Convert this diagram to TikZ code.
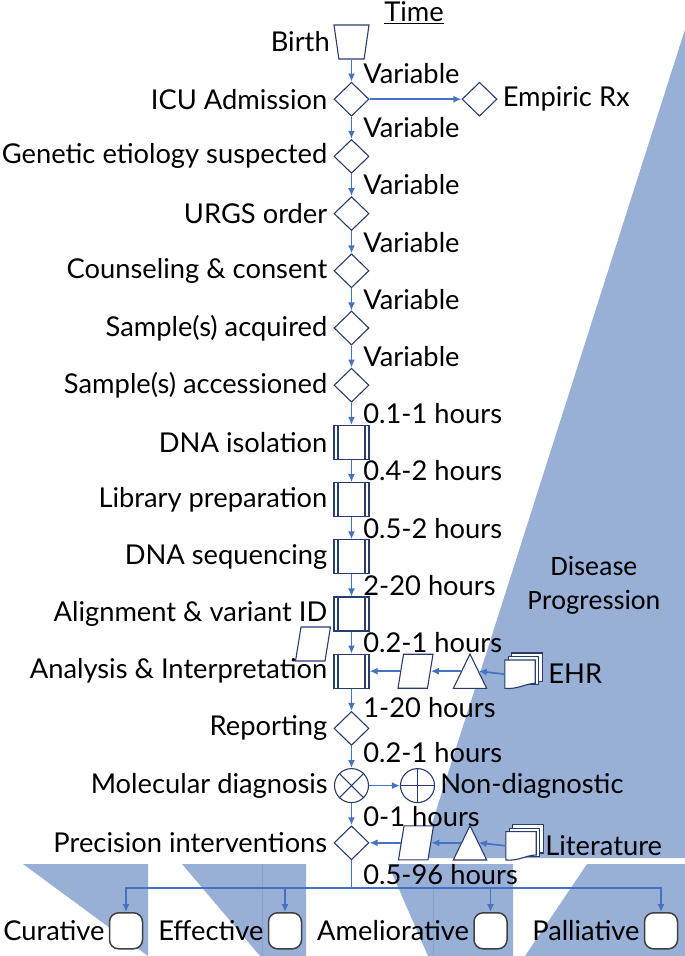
\documentclass[tikz,border=0pt]{standalone}
\usepackage{fontspec}
\setmainfont{Lato}
\newfontfamily\calibrifont{Carlito}
\usetikzlibrary{arrows.meta,positioning,shapes.geometric}
\definecolor{flowblue}{RGB}{68,114,196}
\definecolor{shapenavy}{RGB}{40,60,110}
\definecolor{progfill}{RGB}{152,175,214}
\definecolor{progedge}{RGB}{136,160,205}
\tikzset{
  outline/.style={draw=shapenavy, line width=1.1pt},
  base/.style={outline, fill=white, inner sep=0pt},
  lbl/.style={inner sep=0pt},
  tlbl/.style={inner sep=0pt, right=11pt},
  flow/.style={draw=flowblue, line width=1.7pt, -{Latex[length=8pt,width=7pt]}},
  start/.style={base, trapezium, trapezium left angle=79, trapezium right angle=79,
    shape border rotate=180, trapezium stretches=true, inner sep=2pt, minimum width=35pt, minimum height=34pt},
  dec/.style={base, diamond, minimum width=35pt, minimum height=34pt},
  proc/.style={base, rectangle, minimum width=35pt, minimum height=34pt,
    path picture={\draw[outline]
      ([xshift=4pt]path picture bounding box.north west) -- ([xshift=4pt]path picture bounding box.south west)
      ([xshift=-4pt]path picture bounding box.north east) -- ([xshift=-4pt]path picture bounding box.south east);}},
  para/.style={base, trapezium, trapezium left angle=77, trapezium right angle=103,
    trapezium stretches=true, inner sep=2pt, minimum width=35pt, minimum height=34pt},
  tri/.style={minimum width=33pt, minimum height=34pt, inner sep=0pt,
    append after command={\pgfextra{\filldraw[outline, fill=white]
      (\tikzlastnode.south west) -- (\tikzlastnode.north) -- (\tikzlastnode.south east) -- cycle;}}},
  docs/.style={minimum width=30pt, minimum height=28pt, inner sep=0pt,
    append after command={\pgfextra{
      \filldraw[outline, fill=white] ([shift={(7pt,7pt)}]\tikzlastnode.south west) rectangle ([shift={(7pt,7pt)}]\tikzlastnode.north east);
      \filldraw[outline, fill=white] ([shift={(3.5pt,3.5pt)}]\tikzlastnode.south west) rectangle ([shift={(3.5pt,3.5pt)}]\tikzlastnode.north east);
      \filldraw[outline, fill=white] (\tikzlastnode.north west) -- (\tikzlastnode.north east)
        -- ([yshift=5pt]\tikzlastnode.south east) .. controls +(-10pt,0pt) and +(14pt,-1pt) .. (\tikzlastnode.south west) -- cycle;}}},
  mult/.style={base, circle, minimum size=34pt,
    path picture={\draw[outline]
      (path picture bounding box.north west) -- (path picture bounding box.south east)
      (path picture bounding box.north east) -- (path picture bounding box.south west);}},
  plus/.style={base, circle, minimum size=34pt,
    path picture={\draw[outline]
      (path picture bounding box.north) -- (path picture bounding box.south)
      (path picture bounding box.east) -- (path picture bounding box.west);}},
  term/.style={draw=black!75, line width=1.5pt, fill=white, rounded corners=9pt,
    minimum width=33pt, minimum height=36pt, inner sep=0pt},
  prog/.style={fill=progfill}
}
\begin{document}
\begin{tikzpicture}[x=1pt, y=1pt, node distance=57.2pt, on grid,
    font=\fontsize{27.3}{30}\selectfont, label distance=6pt]
  \useasboundingbox (0,0) rectangle (685,-956);

  % disease progression wedge and outcome wedges
  \fill[prog] (688,-20) -- (421,-858) -- (688,-858) -- cycle;
  \node[font=\calibrifont\fontsize{28}{34}\selectfont, align=center] (dprog) at (594,-585) {Disease\\Progression};
  \fill[prog] (23,-864) -- (148,-864) -- (148,-956) -- cycle;
  \fill[prog] (182,-864) -- (306,-864) -- (306,-956) -- (260,-956) -- cycle;
  \fill[prog] (388,-864) -- (513,-864) -- (513,-956) -- (428,-956) -- cycle;
  \fill[prog] (587,-864) -- (688,-864) -- (688,-956) -- (525,-956) -- cycle;
  \draw[progedge, line width=0.8pt] (262,-864) -- (262,-956) (433,-864) -- (433,-956);

  \node (time) at (414,-13) {\underline{Time}};

  % main timeline
  \node[start, label={[lbl]left:Birth}] (birth) at (351.5,-42) {};
  \node[dec, below=of birth, label={[lbl]left:ICU Admission}] (icu) {};
  \node[dec, below=of icu, label={[lbl]left:Genetic etiology suspected}] (gen) {};
  \node[dec, below=of gen, label={[lbl]left:URGS order}] (urgs) {};
  \node[dec, below=of urgs, label={[lbl]left:Counseling \& consent}] (consent) {};
  \node[dec, below=of consent, label={[lbl]left:Sample(s) acquired}] (acq) {};
  \node[dec, below=of acq, label={[lbl]left:Sample(s) accessioned}] (acc) {};
  \node[proc, below=of acc, label={[lbl]left:DNA isolation}] (dna) {};
  \node[proc, below=of dna, label={[lbl]left:Library preparation}] (lib) {};
  \node[proc, below=of lib, label={[lbl]left:DNA sequencing}] (seq) {};
  \node[proc, below=of seq, label={[lbl]left:Alignment \& variant ID}] (align) {};
  \node[proc, below=of align, label={[lbl]left:Analysis \& Interpretation}] (anal) {};
  \node[dec, below=of anal, label={[lbl]left:Reporting}] (report) {};
  \node[mult, below=of report, label={[lbl]left:Molecular diagnosis}] (moldx) {};
  \node[dec, below=of moldx, label={[lbl]left:Precision interventions}] (prec) {};

  % side branches
  \node[dec, right=128pt of icu, label={[lbl, label distance=5pt]right:Empiric Rx}] (empiric) {};
  \node[plus, right=66pt of moldx, label={[lbl, label distance=5pt]right:Non-diagnostic}] (nondx) {};
  \node[para, fill=none, below left=30pt and 38.5pt of align] (inpar) {};
  \node[para, right=64pt of anal] (ehrpar) {};
  \node[tri, right=54.5pt of ehrpar] (ehrtri) {};
  \node[docs, below right=3pt and 50pt of ehrtri, label={[lbl, label distance=13pt]right:EHR}] (ehr) {};
  \node[para, right=64.5pt of prec] (litpar) {};
  \node[tri, right=54pt of litpar] (littri) {};
  \node[docs, below right=3pt and 51pt of littri, label={[lbl, label distance=9pt]right:Literature}] (lit) {};

  % outcomes
  \coordinate[below=45pt of prec] (br);
  \node[term, below left=88pt and 225.5pt of prec, label={[lbl, label distance=4pt]left:Curative}] (cur) {};
  \node[term, below left=88pt and 66.5pt of prec, label={[lbl, label distance=4pt]left:Effective}] (eff) {};
  \node[term, below right=88pt and 139pt of prec, label={[lbl, label distance=4pt]left:Ameliorative}] (amel) {};
  \node[term, below right=88pt and 309.5pt of prec, label={[lbl, label distance=4pt]left:Palliative}] (pall) {};

  % connectors
  \draw[flow] (birth) -- (icu) node[tlbl, midway, yshift=-3pt] {Variable};
  \draw[flow] (icu) -- (gen) node[tlbl, midway] {Variable};
  \draw[flow] (gen) -- (urgs) node[tlbl, midway] {Variable};
  \draw[flow] (urgs) -- (consent) node[tlbl, midway] {Variable};
  \draw[flow] (consent) -- (acq) node[tlbl, midway] {Variable};
  \draw[flow] (acq) -- (acc) node[tlbl, midway] {Variable};
  \draw[flow] (acc) -- (dna) node[tlbl, midway] {0.1-1 hours};
  \draw[flow] (dna) -- (lib) node[tlbl, midway] {0.4-2 hours};
  \draw[flow] (lib) -- (seq) node[tlbl, midway] {0.5-2 hours};
  \draw[flow] (seq) -- (align) node[tlbl, midway] {2-20 hours};
  \draw[flow] (align) -- (anal) node[tlbl, midway] {0.2-1 hours};
  \draw[flow] (anal) -- (report) node[tlbl, midway, yshift=-8pt] {1-20 hours};
  \draw[flow] (report) -- (moldx) node[tlbl, midway, yshift=4pt] {0.2-1 hours};
  \draw[flow] (moldx) -- (prec) node[tlbl, midway, yshift=-2pt] {0-1 hours};
  \draw[flow] (icu) -- (empiric);
  \draw[flow] (moldx) -- (nondx);
  \draw[flow] (ehr.west) -- ([xshift=-8pt]ehrtri.east);
  \draw[flow] ([xshift=8pt]ehrtri.west) -- (ehrpar);
  \draw[flow] (ehrpar) -- (anal);
  \draw[flow] (lit.west) -- ([xshift=-8pt]littri.east);
  \draw[flow] ([xshift=8pt]littri.west) -- (litpar);
  \draw[flow] (litpar) -- (prec);
  \draw[draw=flowblue, line width=1.7pt] (prec.south) -- (br) node[tlbl, midway] {0.5-96 hours};
  \draw[flow] (br) -| (cur);
  \draw[flow] (br) -| (eff);
  \draw[flow] (br) -| (amel);
  \draw[flow] (br) -| (pall);
\end{tikzpicture}
\end{document}
